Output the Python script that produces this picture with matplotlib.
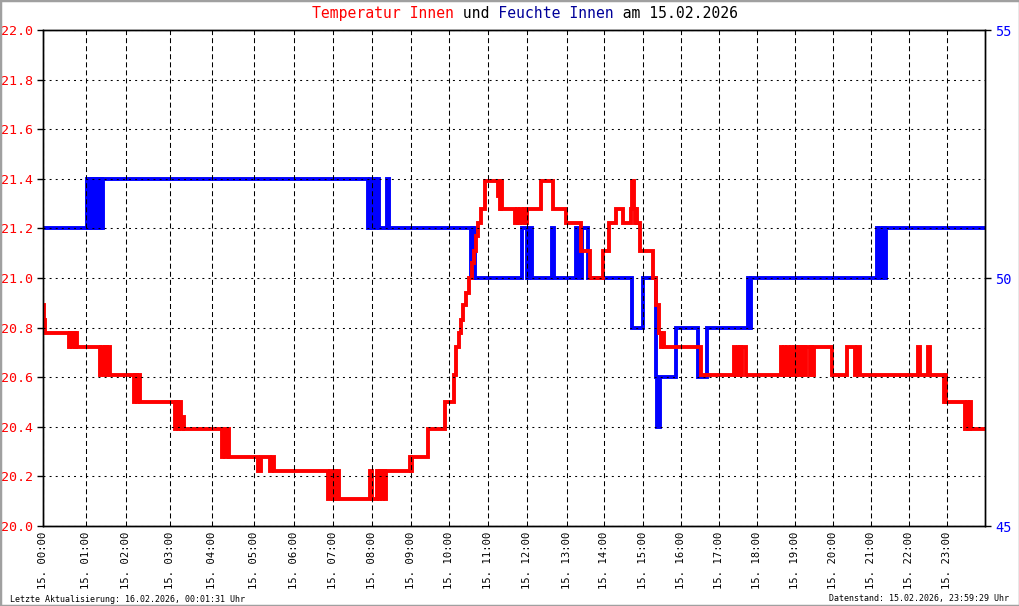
import matplotlib
matplotlib.use("Agg")
import matplotlib.pyplot as plt
from matplotlib.patches import Rectangle

plt.rcParams['font.family'] = ['DejaVu Sans Mono']
plt.rcParams['lines.scale_dashes'] = False

# ---- data (sample index -> value, step changes) ----
temp_idx = [0, 1, 2, 26, 27, 29, 30, 32, 33, 34, 57, 58, 61, 62, 64, 65, 67,
            91, 92, 94, 95, 97, 132, 133, 135, 136, 138, 140, 141,
            179, 180, 182, 185, 186, 215, 218, 227, 229, 231,
            285, 287, 290, 292, 293, 295, 296, 327, 329, 334, 336, 337, 339, 340, 342, 343,
            367, 368, 369, 385, 402, 411, 413, 416, 418, 420, 423, 426, 429, 431, 433, 435, 438, 442,
            455, 456, 457, 458, 459, 472, 474, 475, 477, 479, 481, 482, 484,
            498, 510, 523, 538, 547, 560, 566, 573, 580, 588, 589, 591, 592, 593, 594, 597,
            610, 613, 616, 618, 619, 621, 658, 691, 692, 695, 696, 697, 698, 699, 703,
            738, 739, 741, 742, 744, 746, 748, 749, 751, 753, 754, 756, 757, 759, 760, 762, 763,
            767, 768, 769, 771, 789, 804, 812, 814, 817, 875, 877, 885, 887,
            901, 902, 903, 922, 924, 925, 927, 928, 942]
temp_val = [20.89, 20.83, 20.78, 20.72, 20.78, 20.72, 20.78, 20.72, 20.78, 20.72,
            20.61, 20.72, 20.61, 20.72, 20.61, 20.72, 20.61,
            20.50, 20.61, 20.50, 20.61, 20.50, 20.39, 20.50, 20.39, 20.50, 20.39, 20.44, 20.39,
            20.28, 20.39, 20.28, 20.39, 20.28, 20.22, 20.28, 20.22, 20.28, 20.22,
            20.11, 20.22, 20.11, 20.22, 20.11, 20.22, 20.11, 20.22, 20.11, 20.22, 20.11, 20.22,
            20.11, 20.22, 20.11, 20.22,
            20.28, 20.22, 20.28, 20.39, 20.50, 20.61, 20.72, 20.78, 20.83, 20.89, 20.94, 21.00,
            21.06, 21.11, 21.17, 21.22, 21.28, 21.39,
            21.33, 21.39, 21.28, 21.39, 21.28, 21.22, 21.28, 21.22, 21.28, 21.22, 21.28, 21.22, 21.28,
            21.39, 21.28, 21.22, 21.11, 21.00, 21.11, 21.22, 21.28, 21.22, 21.28, 21.39, 21.28,
            21.22, 21.28, 21.22, 21.11,
            21.00, 20.89, 20.78, 20.72, 20.78, 20.72, 20.61, 20.72, 20.61, 20.72, 20.61, 20.72,
            20.61, 20.72, 20.61,
            20.72, 20.61, 20.72, 20.61, 20.72, 20.61, 20.72, 20.61, 20.72, 20.61, 20.72, 20.61,
            20.72, 20.61, 20.72, 20.61, 20.72,
            20.61, 20.72, 20.61, 20.72, 20.61, 20.72, 20.61, 20.72, 20.61, 20.72, 20.61, 20.72, 20.61,
            20.50, 20.61, 20.50, 20.39, 20.50, 20.39, 20.50, 20.39, 20.39]

hum_idx = [0, 44, 45, 46, 47, 49, 50, 51, 52, 54, 55, 56, 57, 58, 59, 60,
           325, 327, 329, 331, 333, 334, 336, 344, 346,
           428, 429, 430, 431, 432, 479, 484, 486, 489, 509, 511, 533, 536, 539, 545,
           589, 600, 613, 614, 617, 633, 655, 664, 705, 707, 708,
           834, 835, 836, 839, 840, 842, 843, 942]
hum_val = [51, 52, 51, 52, 51, 52, 51, 52, 51, 52, 51, 52, 51, 52, 51, 52,
           51, 52, 51, 52, 51, 52, 51, 52, 51,
           50, 51, 50, 51, 50, 51, 50, 51, 50, 51, 50, 51, 50, 51, 50,
           49, 50, 48, 47, 48, 49, 48, 49, 50, 49, 50,
           51, 50, 51, 50, 51, 50, 51, 51]

hour_idx = [0, 43, 83, 127, 169, 211, 251, 290, 329, 368, 406, 445, 484, 524,
            561, 600, 638, 676, 714, 752, 790, 828, 866, 904]
hour_labels = ["15. %02d:00" % h for h in range(24)]

temp_ticks = [20.0, 20.2, 20.4, 20.6, 20.8, 21.0, 21.2, 21.4, 21.6, 21.8, 22.0]
hum_ticks = [45, 50, 55]

title_parts = [("Temperatur Innen", "#ff0000"), (" und ", "#000000"),
               ("Feuchte Innen", "#000099"), (" am 15.02.2026", "#000000")]
footer_left = "Letzte Aktualisierung: 16.02.2026, 00:01:31 Uhr"
footer_right = "Datenstand: 15.02.2026, 23:59:29 Uhr"

# ---- figure ----
fig = plt.figure(figsize=(10.2, 6.06), dpi=100)
ax = fig.add_axes([43.3 / 1020, 1 - 526 / 606, 942 / 1020, 496 / 606])
ax2 = ax.twinx()
ax2.set_zorder(ax.get_zorder() - 1)
ax.patch.set_visible(False)

ax2.step(hum_idx, hum_val, where='post', color='#0000ff', lw=2.8, solid_joinstyle='miter')
ax.step(temp_idx, temp_val, where='post', color='#ff0000', lw=2.8, solid_joinstyle='miter', zorder=2)

ax.set_xlim(0, 942)
ax.set_ylim(20.0, 22.0)
ax2.set_ylim(45, 55)

ax.set_yticks(temp_ticks)
ax.set_yticklabels(["%.1f" % t for t in temp_ticks])
ax2.set_yticks(hum_ticks)
ax2.set_yticklabels([str(t) for t in hum_ticks])
ax.set_xticks(hour_idx)
ax.set_xticklabels(hour_labels, rotation=90, fontsize=7.6, va='top', ha='center')

ax.tick_params(axis='y', colors='black', labelcolor='#ff0000', labelsize=9.6,
               length=4, width=1, pad=3.5, direction='out')
ax2.tick_params(axis='y', colors='black', labelcolor='#0000ff', labelsize=9.8,
                length=4, width=1, pad=3, direction='out')
ax.tick_params(axis='x', length=0, pad=4)

ax.set_axisbelow(False)
ax.grid(axis='y', color='black', lw=0.75, linestyle=(0, (1.4, 3.0)))
ax.grid(axis='x', color='black', lw=0.75, linestyle=(0, (3.6, 2.2)))

for a in (ax, ax2):
    for s in a.spines.values():
        s.set_color('black')
        s.set_linewidth(1.0)

# title: monospace, colored pieces aligned via space padding
full = "".join(p for p, _ in title_parts)
pos = 0
for text, col in title_parts:
    s = " " * pos + text + " " * (len(full) - pos - len(text))
    fig.text(525 / 1020, 1 - 13.5 / 606, s, color=col, fontsize=10.6,
             ha='center', va='center')
    pos += len(text)

fig.text(10 / 1020, 1 - 599 / 606, footer_left, fontsize=6.0, ha='left', va='center')
fig.text(1009 / 1020, 1 - 599 / 606, footer_right, fontsize=6.0, ha='right', va='center')

fig.patches.append(Rectangle((0, 0), 1, 1, transform=fig.transFigure, fill=False,
                             edgecolor='#a0a0a0', lw=2.5))

fig.savefig("out.png", dpi=100)
